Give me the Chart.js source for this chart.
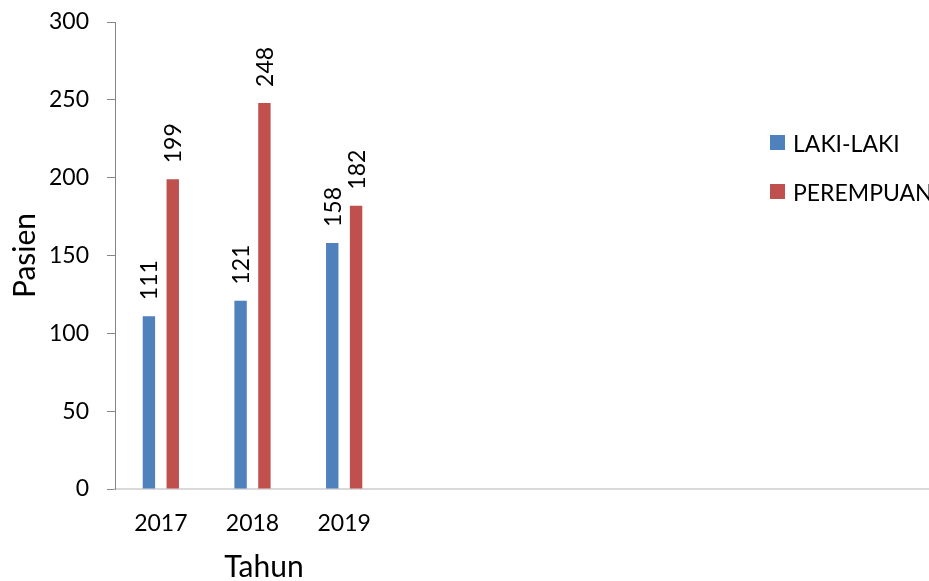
<!DOCTYPE html>
<html>
<head>
<meta charset="utf-8">
<title>Pasien per Tahun</title>
<script src="https://cdn.jsdelivr.net/npm/chart.js@4/dist/chart.umd.min.js"></script>
<style>
    html, body { margin: 0; padding: 0; background: #fff; overflow: hidden; }
    #wrap { width: 929px; height: 581px; overflow: hidden; }
</style>
</head>
<body>
<div id="wrap"><canvas id="chart" width="940" height="581"></canvas></div>
<script>
// categories (the empty ones keep the long, empty axis of the original)
const years = ["2017", "2018", "2019", "", "", "", "", "", ""];
const lakiLaki = [111, 121, 158];
const perempuan = [199, 248, 182];
const seriesNames = ["LAKI-LAKI", "PEREMPUAN"];
const yTicks = [0, 50, 100, 150, 200, 250, 300];

const FONT = "Lato";

// value written vertically above every bar
const barLabels =
    {
        id: "barLabels",
        afterDatasetsDraw(chart)
        {
            const ctx = chart.ctx;
            ctx.save();
            ctx.font = "23px " + FONT;
            ctx.fillStyle = "#000";
            ctx.textAlign = "left";
            ctx.textBaseline = "middle";
            chart.data.datasets.forEach((ds, i) =>
            {
                chart.getDatasetMeta(i).data.forEach((bar, j) =>
                {
                    if (ds.data[j] == null) return;
                    ctx.save();
                    ctx.translate(bar.x + 1, bar.y - 16);
                    ctx.rotate(-Math.PI / 2);
                    ctx.fillText(String(ds.data[j]), 0, 0);
                    ctx.restore();
                });
            });
            ctx.restore();
        }
    };

// legend sitting inside the plot, and the x title placed like the original
const sideLegend =
    {
        id: "sideLegend",
        afterDraw(chart)
        {
            const ctx = chart.ctx;
            ctx.save();
            ctx.font = "23px " + FONT;
            ctx.textAlign = "left";
            ctx.textBaseline = "alphabetic";
            chart.data.datasets.forEach((ds, i) =>
            {
                const y = 135 + i * 49;
                ctx.fillStyle = ds.backgroundColor;
                ctx.fillRect(770, y, 15, 15);
                ctx.fillStyle = "#000";
                ctx.fillText(ds.label, 793, y + 17);
            });

            ctx.font = "30px " + FONT;
            ctx.textAlign = "center";
            ctx.fillText("Tahun", 264, 577);
            ctx.restore();
        }
    };

function draw()
{
    const ctx = document.getElementById("chart").getContext("2d");

    new Chart(ctx,
        {
            type: "bar",
            data:
                {
                    labels: years,
                    datasets: [
                        {
                            label: seriesNames[0],
                            data: lakiLaki,
                            backgroundColor: "#4F81BD",
                            categoryPercentage: 0.52,
                            barPercentage: 0.52
                        },
                        {
                            label: seriesNames[1],
                            data: perempuan,
                            backgroundColor: "#C0504D",
                            categoryPercentage: 0.52,
                            barPercentage: 0.52
                        }
                    ]
                },
            options:
                {
                    responsive: false,
                    animation: false,
                    devicePixelRatio: 1,
                    layout: { padding: { top: 22, left: 0, right: 0, bottom: 0 } },
                    plugins:
                        {
                            legend: { display: false },
                            tooltip: { enabled: false }
                        },
                    scales:
                        {
                            x:
                                {
                                    grid: { display: false, drawTicks: false },
                                    border: { display: true, color: "#D9D9D9", width: 2 },
                                    ticks:
                                        {
                                            color: "#000",
                                            font: { family: FONT, size: 23 },
                                            padding: 21,
                                            maxRotation: 0,
                                            autoSkip: false
                                        },
                                    afterFit: (scale) => { scale.height = 92; }
                                },
                            y:
                                {
                                    min: 0,
                                    max: 300,
                                    afterBuildTicks: (scale) =>
                                    {
                                        scale.ticks = yTicks.map(v => ({ value: v }));
                                    },
                                    grid:
                                        {
                                            drawOnChartArea: false,
                                            drawTicks: true,
                                            tickLength: 8,
                                            color: "#868686"
                                        },
                                    border: { display: true, color: "#868686", width: 1 },
                                    ticks:
                                        {
                                            color: "#000",
                                            font: { family: FONT, size: 23 },
                                            padding: 18
                                        },
                                    title:
                                        {
                                            display: true,
                                            text: "Pasien",
                                            color: "#000",
                                            font: { family: FONT, size: 30 },
                                            padding: { top: 7, bottom: 0 }
                                        },
                                    afterFit: (scale) =>
                                    {
                                        scale.width = 115;
                                        // top/bottom room comes from layout padding only
                                        scale.paddingTop = 0;
                                        scale.paddingBottom = 0;
                                    }
                                }
                        }
                },
            plugins: [barLabels, sideLegend]
        });
}

document.fonts.load("23px " + FONT).then(draw, draw);
</script>
</body>
</html>
